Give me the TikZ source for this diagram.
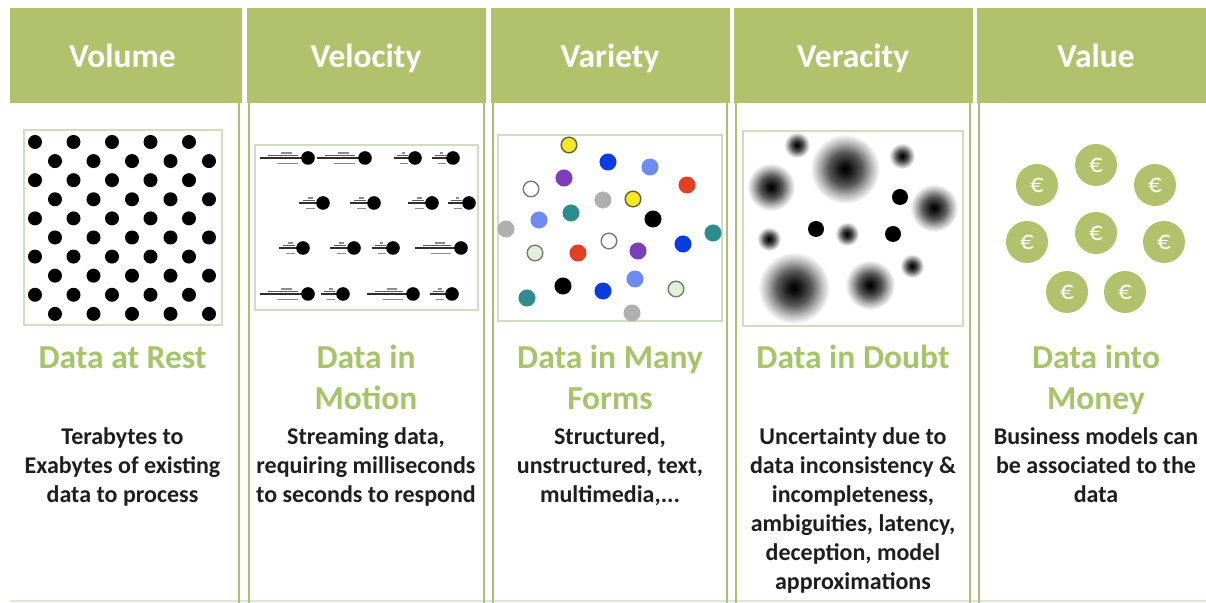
\documentclass[tikz,border=0pt]{standalone}
\usepackage{fontspec}
\setmainfont{Carlito}
\definecolor{hdrgreen}{RGB}{178,194,108}
\definecolor{subgreen}{RGB}{166,196,104}
\definecolor{linegreen}{RGB}{170,192,118}
\definecolor{boxborder}{RGB}{205,222,195}
\definecolor{bottomline}{RGB}{220,228,214}
\definecolor{textdark}{RGB}{30,30,30}
\definecolor{vyellow}{RGB}{245,232,40}
\definecolor{vyedge}{RGB}{95,95,40}
\definecolor{vblue}{RGB}{10,60,225}
\definecolor{vlblue}{RGB}{110,140,240}
\definecolor{vpurple}{RGB}{125,60,185}
\definecolor{vred}{RGB}{225,65,35}
\definecolor{vgray}{RGB}{176,176,176}
\definecolor{vteal}{RGB}{45,140,140}
\definecolor{vlgreen}{RGB}{225,240,215}
\definecolor{vedge}{RGB}{120,120,120}
\pgfdeclareradialshading{fuzz}{\pgfpointorigin}{color(0bp)=(black); color(4bp)=(black!92); color(12bp)=(black!65); color(19bp)=(black!28); color(25bp)=(white); color(50bp)=(white)}
\begin{document}
\begin{tikzpicture}[x=0.5pt,y=-0.5pt,
  hdrbox/.style={fill=hdrgreen, draw=none},
  hdrtext/.style={text=white, font=\bfseries\fontsize{16.75}{20}\selectfont, anchor=base, inner sep=0pt},
  subtext/.style={text=subgreen, font=\bfseries\fontsize{16.75}{20.5}\selectfont, anchor=base, align=center, inner sep=0pt},
  bodytext/.style={text=textdark, font=\bfseries\fontsize{12}{14.5}\selectfont, anchor=base, align=center, inner sep=0pt},
  sepline/.style={draw=linegreen, line width=1.25pt},
  picbox/.style={draw=boxborder, line width=0.6pt, fill=white},
  stk/.style={draw=black!82, line width=1.0pt},
  stkb/.style={draw=black!65, line width=0.8pt},
  stkc/.style={draw=black!45, line width=0.9pt},
  coin/.style={circle, fill=hdrgreen, minimum size=21pt, inner sep=0pt, text=white, font=\fontsize{13.5}{15}\selectfont}
]
\useasboundingbox[fill=white] (0,0) rectangle (1206,603);

% bottom line
\draw[draw=bottomline, line width=0.6pt] (10,601) -- (1206,601);

% headers
\fill[hdrbox] (10,8) rectangle (242,103);
\fill[hdrbox] (246.5,8) rectangle (486,103);
\fill[hdrbox] (490.5,8) rectangle (729.5,103);
\fill[hdrbox] (734,8) rectangle (973,103);
\fill[hdrbox] (977,8) rectangle (1206,103);

% separator lines
\foreach \xx in {239,249,484,493,727,736,970,979}{
  \draw[sepline] (\xx,103) -- (\xx,603);
}

% header texts
\node[hdrtext] (h1) at (122.5,68) {Volume};
\node[hdrtext] (h2) at (366,68) {Velocity};
\node[hdrtext] (h3) at (610,68) {Variety};
\node[hdrtext] (h4) at (853,68) {Veracity};
\node[hdrtext] (h5) at (1096,68) {Value};

% subtitles (anchor = baseline of last line)
\node[subtext] (s1) at (122.5,369) {Data at Rest};
\node[subtext] (s2) at (366,410) {Data in\\Motion};
\node[subtext] (s3) at (610,410) {Data in Many\\Forms};
\node[subtext] (s4) at (853,369) {Data in Doubt};
\node[subtext] (s5) at (1096,410) {Data into\\Money};

% body texts (anchor = baseline of last line; first line at 445, step 29)
\node[bodytext] (b1) at (122.5,503) {Terabytes to\\Exabytes of existing\\data to process};
\node[bodytext] (b2) at (366,503) {Streaming data,\\requiring milliseconds\\to seconds to respond};
\node[bodytext] (b3) at (610,503) {Structured,\\unstructured, text,\\multimedia,...};
\node[bodytext] (b4) at (853,590) {Uncertainty due to\\data inconsistency \&\\incompleteness,\\ambiguities, latency,\\deception, model\\approximations};
\node[bodytext] (b5) at (1096,503) {Business models can\\be associated to the\\data};

% ---- Volume picture
\draw[picbox] (24,130) rectangle (222,325);
\foreach \i in {0,...,9}{
  \pgfmathsetmacro\yy{142+19.1*\i}
  \pgfmathsetmacro\xo{35+20*mod(\i,2)}
  \foreach \j in {0,...,4}{
    \fill[black] ({\xo+38.5*\j},\yy) circle (7);
  }
}

% ---- Velocity picture
\draw[picbox] (255,145) rectangle (478,310);
\foreach \x/\y/\L in {308/158/42, 365/158/42, 415/158/15, 453/158/15,
                      323/203/18, 374/203/18, 432/203/18, 469/203/15,
                      303/248/18, 354/248/18, 393/248/15, 461/248/40,
                      308/294/42, 343/294/16, 413/294/40, 452/294/16}{
  \draw[stk] ({\x-6-\L},\y) -- ({\x-6},\y);
  \draw[stkb] ({\x-6-0.8*\L},{\y-2.5}) -- ({\x-6-0.1*\L},{\y-2.5});
  \draw[stkc] ({\x-6-0.5*\L},{\y-5}) -- ({\x-6-0.25*\L},{\y-5});
  \draw[stkc] ({\x-6-0.6*\L},{\y+5.5}) -- ({\x-6-0.1*\L},{\y+5.5});
  \fill[black] (\x,\y) circle (6.8);
}

% ---- Variety picture
\draw[picbox] (498,135) rectangle (722,321);
\foreach \x/\y/\c/\e in {569/145/vyellow/vyedge, 608/162/vblue/vblue, 650/167/vlblue/vlblue,
   564/178/vpurple/vpurple, 531/189/white/vedge, 687/185/vred/vred, 603/200/vgray/vgray,
   633/199/vyellow/vyedge, 571/213/vteal/vteal, 539/220/vlblue/vlblue, 653/219/black/black,
   506/229/vgray/vgray, 713/233/vteal/vteal, 609/241/white/vedge, 535/253/vlgreen/vedge,
   578/253/vred/vred, 638/251/vpurple/vpurple, 683/244/vblue/vblue, 563/286/black/black,
   603/291/vblue/vblue, 635/279/vlblue/vlblue, 676/289/vlgreen/vedge, 527/298/vteal/vteal,
   632/313/vgray/vgray}{
  \filldraw[fill=\c, draw=\e, line width=0.7pt] (\x,\y) circle (7.8);
}

% ---- Veracity picture
\draw[picbox] (743,131) rectangle (963,326);
\foreach \x/\y/\r in {797/145/13, 845/169/35, 902/156/13, 771/187/24, 934/208/24,
   769/239/12, 847/234/12, 912/266/12, 794/288/36, 870/285/25}{
  \shade[shading=fuzz] (\x,\y) circle (\r);
}
\foreach \x/\y in {900/197, 816/229, 893/234}{
  \fill[black] (\x,\y) circle (8);
}

% ---- Value picture (coins)
\node[coin] (c1) at (1037,185) {€};
\node[coin] (c2) at (1096,165) {€};
\node[coin] (c3) at (1155,185) {€};
\node[coin] (c4) at (1027,242) {€};
\node[coin] (c5) at (1096,233) {€};
\node[coin] (c6) at (1164,242) {€};
\node[coin] (c7) at (1067,292) {€};
\node[coin] (c8) at (1125,292) {€};
\end{tikzpicture}
\end{document}
